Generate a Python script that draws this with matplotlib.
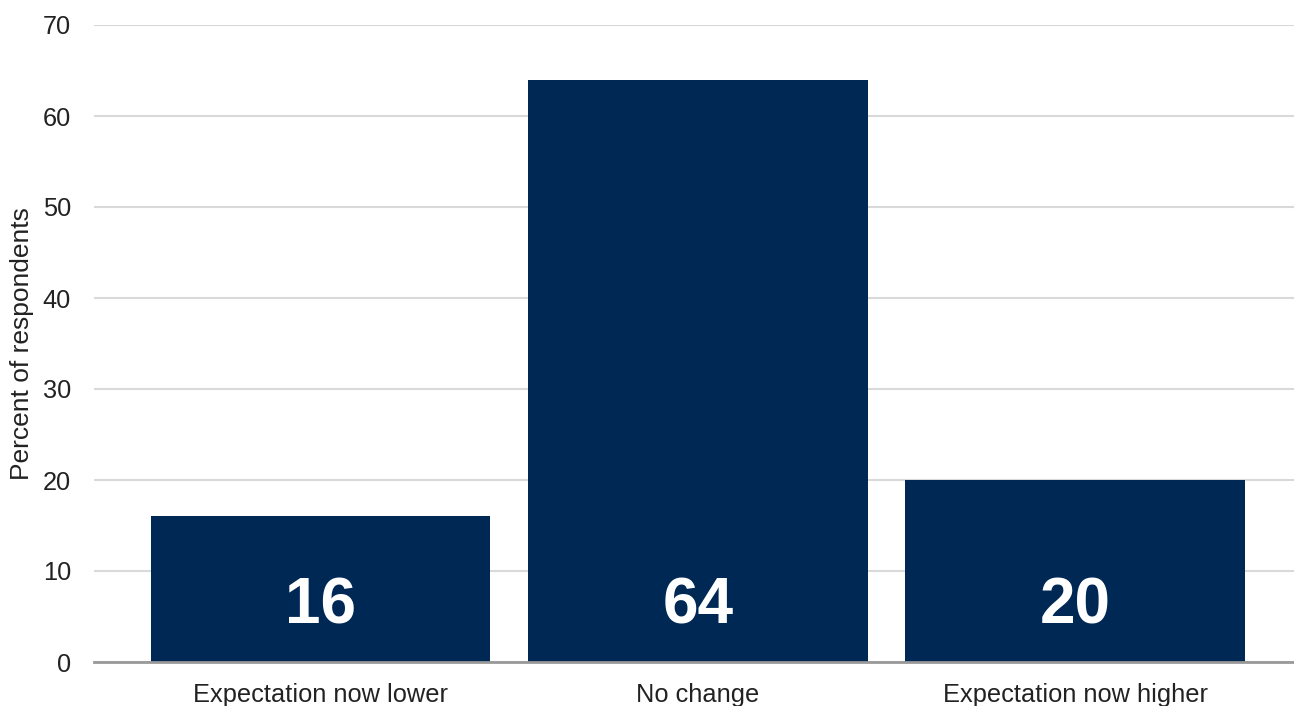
import matplotlib
matplotlib.use("Agg")
import matplotlib.pyplot as plt

categories = ["Expectation now lower", "No change", "Expectation now higher"]
values = [16, 64, 20]
yticks = [0, 10, 20, 30, 40, 50, 60, 70]

plt.rcParams['font.family'] = ['Liberation Sans', 'DejaVu Sans']

fig = plt.figure(figsize=(12.94, 7.06), dpi=100)
ax = fig.add_axes([94/1294, 44/706, 1 - 94/1294, 637/706])

x = list(range(len(categories)))
bars = ax.bar(x, values, width=0.9, color="#002855", zorder=3)
for xi, v in zip(x, values):
    ax.text(xi, 6.05, str(v), ha="center", va="center", color="white",
            fontsize=46, fontweight="bold", zorder=4)

ax.set_xlim(-0.6, 2.58)
ax.set_ylim(0, 70)
ax.set_yticks(yticks)
ax.set_xticks(x)
ax.set_xticklabels(categories, fontsize=18.3, color="#222222")
ax.tick_params(axis="y", labelsize=18.3, length=0, pad=16.5, labelcolor="#222222")
ax.tick_params(axis="x", length=0, pad=15)
ax.yaxis.grid(True, color="#d9d9d9", linewidth=1.5, zorder=0)
ax.set_axisbelow(True)
for s in ["top", "right", "left"]:
    ax.spines[s].set_visible(False)
ax.spines["bottom"].set_color("#999999")
ax.spines["bottom"].set_linewidth(2)
ax.spines["bottom"].set_zorder(5)
ax.set_ylabel("Percent of respondents", fontsize=19, color="#222222", labelpad=6)

fig.savefig("out.png", dpi=100)
